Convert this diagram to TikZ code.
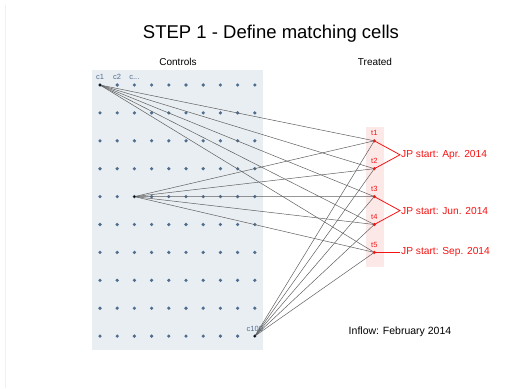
\documentclass[tikz,border=0pt]{standalone}
\usepackage{fontspec}
\setmainfont{Liberation Sans}
\usetikzlibrary{positioning}
\definecolor{ctrlblue}{RGB}{79,109,143}
\definecolor{panelgray}{RGB}{233,238,242}
\definecolor{treatpink}{RGB}{253,232,232}
\definecolor{jpred}{RGB}{245,20,20}
\definecolor{linkgray}{RGB}{95,95,95}
\begin{document}
\begin{tikzpicture}[
  x=1pt,y=-1pt,
  ctrl/.style={circle,fill=ctrlblue,inner sep=0pt,minimum size=3.6pt},
  treat/.style={circle,fill=jpred,inner sep=0pt,minimum size=3.4pt},
  clab/.style={text=ctrlblue,font=\fontsize{7.5}{8}\selectfont,inner sep=0pt},
  tlab/.style={text=jpred,font=\fontsize{7.5}{8}\selectfont,inner sep=0pt},
  head/.style={font=\fontsize{10}{12}\selectfont},
  jplab/.style={text=jpred,anchor=west,inner sep=1pt,font=\fontsize{10.2}{12}\selectfont},
  link/.style={draw=linkgray,line width=0.5pt},
  jplink/.style={draw=jpred,line width=0.8pt}
]
\useasboundingbox (0,0) rectangle (529,388);
\draw[black!6,line width=0.8pt] (5,5) -- (5,388);
% panels
\fill[panelgray] (92,70) rectangle (263,350);
\fill[treatpink] (366,127) rectangle (384,267);
% titles
\node (title) at (271,34) {\fontsize{18.5}{22}\selectfont STEP 1 - Define matching cells};
\node[head] (controls) at (178,62) {Controls};
\node[head] (treated) at (375,62) {Treated};
\node[font=\fontsize{10.5}{12}\selectfont] (inflow) at (400,332) {Inflow: February 2014};
% control cells
\foreach \i in {1,...,10}
  \foreach \j in {1,...,10}
    \node[ctrl] (c-\i-\j) at ({100+(\i-1)*17.2},{85+(\j-1)*27.9}) {};
\node[clab,above=3pt of c-1-1] (l1) {c1};
\node[clab,above=3pt of c-2-1] (l2) {c2};
\node[clab,above=3pt of c-3-1] (l3) {c...};
\node[clab,above=2.5pt of c-10-10] (l100) {c100};
% treated cells
\foreach \k/\y in {1/140.8,2/168.7,3/196.6,4/224.5,5/252.4}{
  \node[treat] (t\k) at (374.3,\y) {};
  \node[tlab,above=3pt of t\k] (tl\k) {t\k};
}
% matches
\foreach \c in {c-1-1,c-3-5,c-10-10}
  \foreach \k in {1,...,5}
    \draw[link] (\c.center) -- (t\k.center);
\foreach \c in {c-1-1,c-3-5,c-10-10}
  \fill (\c) circle (1.1pt);
% entry dates
\node[jplab] (jp1) at (400,154.8) {JP start: Apr. 2014};
\node[jplab] (jp2) at (400,210.6) {JP start: Jun. 2014};
\node[jplab] (jp3) at (400,252.4) {JP start: Sep. 2014};
\draw[jplink] (t1.center) -- (jp1.west) -- (t2.center);
\draw[jplink] (t3.center) -- (jp2.west) -- (t4.center);
\draw[jplink] (t5.center) -- (jp3.west);
\end{tikzpicture}
\end{document}
